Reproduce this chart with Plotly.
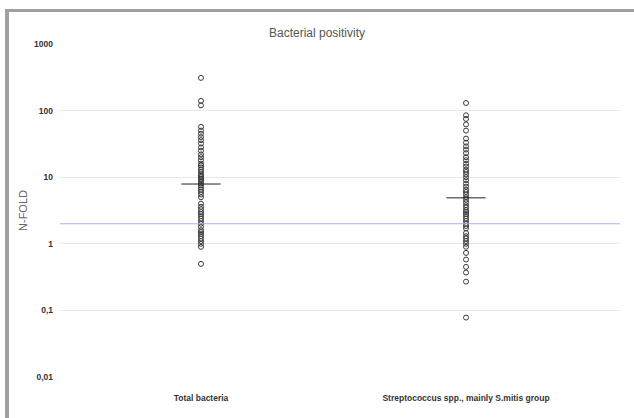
import plotly.graph_objects as go

categories = ["Total bacteria", "Streptococcus spp., mainly S.mitis group"]

total_bacteria = [310, 140, 120, 57, 50, 45, 40, 36, 32, 28, 25, 22, 20, 18, 16, 15, 14, 13,
                  12, 11, 10.5, 10, 9.5, 9, 8.5, 8, 7.5, 7, 6.5, 6, 5.5, 5,
                  4.0, 3.6, 3.3, 3.0, 2.8, 2.6, 2.4, 2.2, 2.0, 1.8, 1.6, 1.5, 1.4, 1.3,
                  1.2, 1.1, 1.0, 0.9, 0.5]

streptococcus = [130, 85, 75, 62, 50, 38, 33, 29, 26, 23, 20, 18, 16, 14.5, 13, 12, 11, 10,
                 9, 8, 7.2, 6.5, 6, 5.5, 5, 4.6, 4.2, 3.8, 3.5, 3.2, 3.0, 2.8, 2.6, 2.4,
                 2.2, 2.0, 1.85, 1.7, 1.45, 1.3, 1.2, 1.1, 1.0, 0.9, 0.73, 0.58, 0.45,
                 0.37, 0.27, 0.078]

means = [7.9, 4.9]
threshold = 2

tick_vals = [0.01, 0.1, 1, 10, 100, 1000]
tick_text = ["0,01", "0,1", "1", "10", "100", "1000"]

series = [total_bacteria, streptococcus]

fig = go.Figure()
for i, vals in enumerate(series):
    fig.add_trace(go.Scatter(
        x=[i] * len(vals), y=vals, mode="markers",
        marker=dict(symbol="circle-open", size=5, color="#3a3a3a", line=dict(width=1)),
        showlegend=False, hoverinfo="y"))

fig.add_trace(go.Scatter(
    x=list(range(len(categories))), y=means, mode="markers",
    marker=dict(symbol="line-ew", size=28, color="#222222", line=dict(width=1, color="#222222")),
    showlegend=False))

fig.add_shape(type="line", xref="paper", yref="y", x0=0, x1=1, y0=threshold, y1=threshold,
              line=dict(color="#aab0f2", width=1))

# outer frame (top and left)
fig.add_shape(type="rect", xref="paper", yref="paper", x0=-0.0982, x1=1.03, y0=1.096, y1=1.105,
              line=dict(width=0), fillcolor="#a0a0a0", layer="above")
fig.add_shape(type="rect", xref="paper", yref="paper", x0=-0.0982, x1=-0.0911, y0=-0.13, y1=1.105,
              line=dict(width=0), fillcolor="#a0a0a0", layer="above")

fig.update_layout(
    width=634, height=418,
    margin=dict(l=60, r=14, t=44, b=41),
    paper_bgcolor="white", plot_bgcolor="white",
    font=dict(family="Liberation Sans, Arial, sans-serif"),
    title=dict(text="Bacterial positivity", x=0.5, xanchor="center", y=0.921, yanchor="middle",
               font=dict(size=12, color="#555555")),
    xaxis=dict(range=[-0.532, 1.581], tickvals=[0, 1], ticktext=categories,
               showgrid=False, zeroline=False, showline=False, ticks="",
               ticklabelstandoff=14,
               tickfont=dict(size=8.5, color="#333333", weight="bold")),
    yaxis=dict(type="log", range=[-2, 3], tickvals=tick_vals, ticktext=tick_text,
               showgrid=True, gridcolor="#e8e8e8", gridwidth=1, zeroline=False, showline=False,
               ticks="", ticklabelstandoff=6,
               tickfont=dict(size=8.5, color="#333333", weight="bold"),
               title=dict(text="N-FOLD", font=dict(size=11, color="#666666"), standoff=4)),
)

fig.write_html("out.html", config={"displayModeBar": False},
               post_script="document.body.style.margin='0';")
